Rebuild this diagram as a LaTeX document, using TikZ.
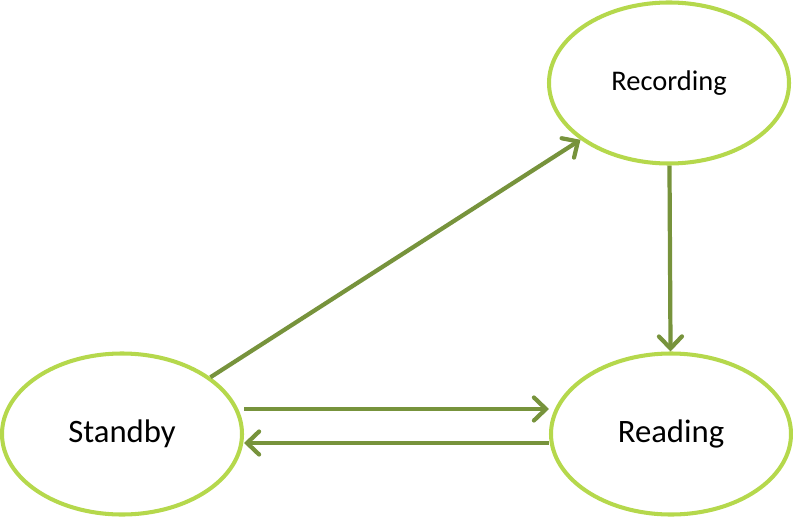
\documentclass[tikz,border=0pt]{standalone}
\usepackage{fontspec}
\setmainfont{Carlito}
\usepackage{xcolor}
\usetikzlibrary{shapes.geometric,arrows.meta}
\definecolor{ringgreen}{HTML}{B5D84C}
\definecolor{arrowgreen}{HTML}{77933C}

\begin{document}
\begin{tikzpicture}[
  state/.style={ellipse, draw=ringgreen, line width=2.3pt, fill=white,
    minimum width=4.8cm, minimum height=3.22cm, inner sep=0pt, font=\fontsize{18.6}{22}\selectfont},
  trans/.style={draw=arrowgreen, line width=2.4pt,
    -{Straight Barb[length=0.24cm, width=0.46cm, line cap=round]}}
]
\useasboundingbox (0,0) rectangle (15.86,10.36);

% states
\node[state] (Standby) at (2.44,1.68) {Standby};
\node[state] (Reading) at (13.42,1.68) {Reading};
\node[state, font=\fontsize{16.2}{20}\selectfont] (Recording) at (13.38,8.70) {Recording};

% transitions
\draw[trans] (Standby) -- (Recording);
\draw[trans] (Recording) -- (Reading);
\draw[trans] ([yshift=0.5cm]Standby.east) -- ([yshift=0.5cm]Reading.west);
\draw[trans] ([yshift=-0.18cm]Reading.west) -- ([yshift=-0.18cm]Standby.east);
\end{tikzpicture}
\end{document}
